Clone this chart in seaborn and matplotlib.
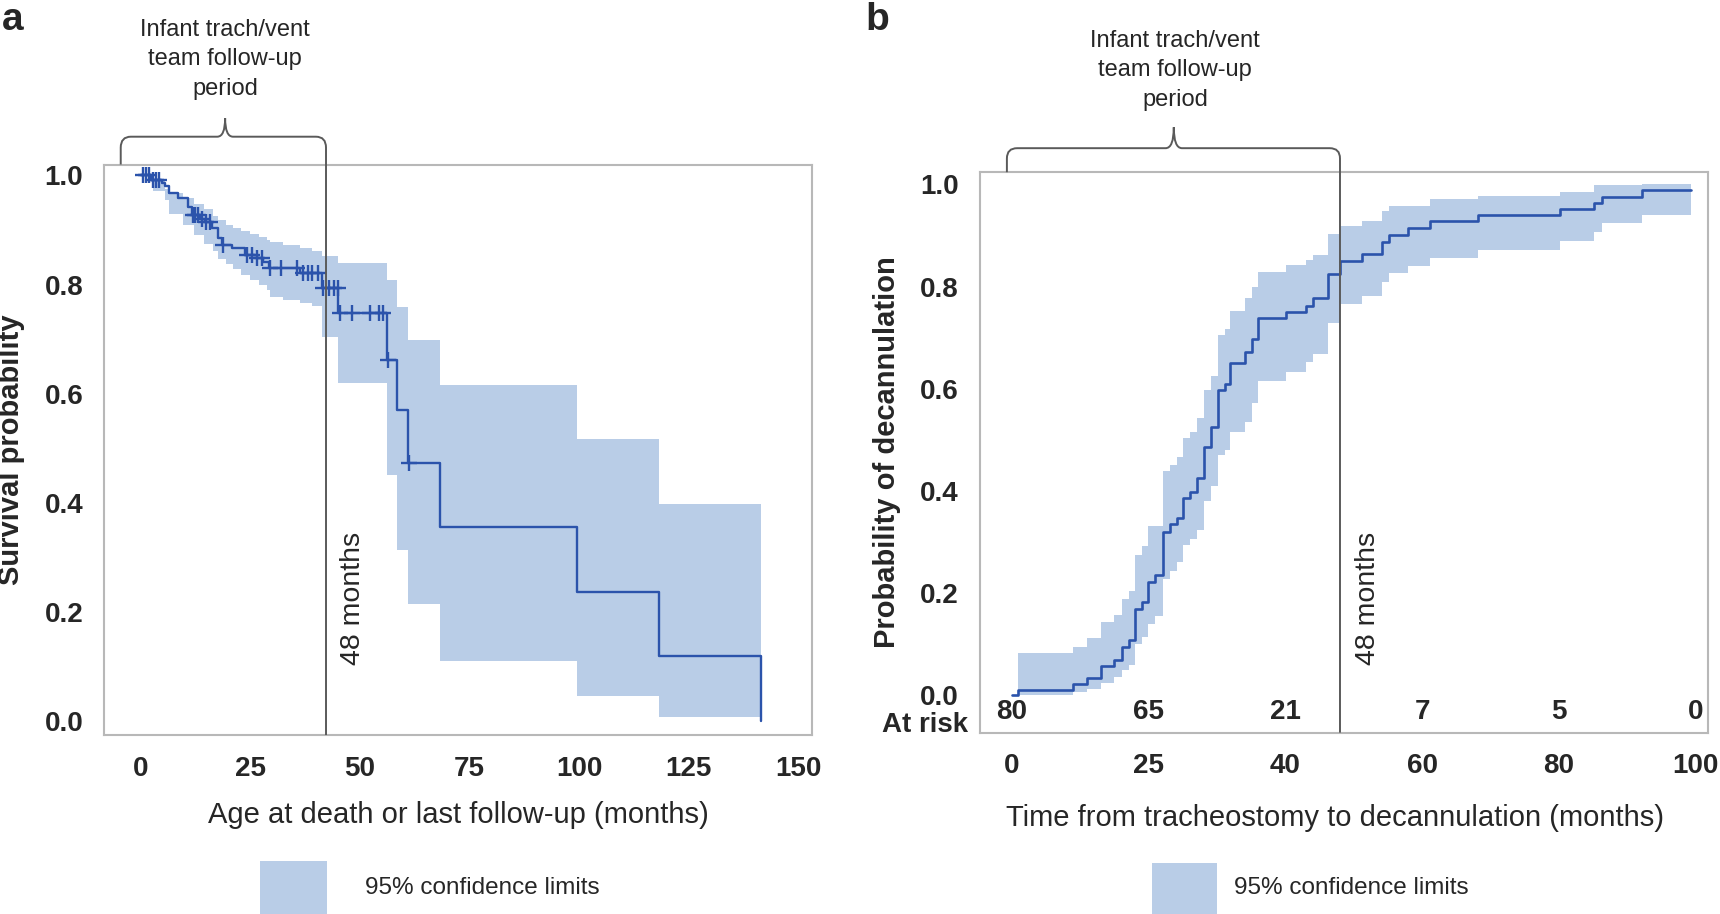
import numpy as np
import pandas as pd
import seaborn as sns
import matplotlib.pyplot as plt
from matplotlib.path import Path
from matplotlib.patches import PathPatch, Rectangle

# ---- panel a: survival (Kaplan-Meier) ----
surv_time = [0, 2.5, 4.85, 5.6, 6.4, 8.6, 10.9, 11.7, 13.6, 14.7, 16.2, 17.7, 18.5, 20.8,
             23.8, 26.5, 28.0, 29.2, 36.4, 41.3, 45.1, 56.3, 58.4, 61.1, 68.3, 99.6, 118.3, 141.4]
surv_prob = [1.0, 0.992, 0.986, 0.980, 0.967, 0.958, 0.943, 0.927, 0.921, 0.915, 0.903, 0.885, 0.873, 0.867,
             0.854, 0.848, 0.842, 0.830, 0.821, 0.793, 0.747, 0.662, 0.570, 0.472, 0.356, 0.237, 0.118, 0.0]
ci_a_time = [2.8, 5.5, 6.5, 9.8, 12.1, 14.5, 16.6, 17.7, 19.5, 21.2, 23.0, 25.0, 27.0, 28.8, 29.5,
             32.5, 36.3, 39.0, 41.3, 45.1, 56.3, 58.4, 61.1, 68.3, 99.6, 118.3, 141.4]
ci_a_hi = [0.990, 0.975, 0.967, 0.958, 0.948, 0.938, 0.925, 0.918, 0.910, 0.904, 0.898, 0.893, 0.887, 0.882, 0.878,
           0.873, 0.867, 0.862, 0.853, 0.839, 0.808, 0.759, 0.698, 0.616, 0.516, 0.397, 0.397]
ci_a_lo = [0.972, 0.955, 0.930, 0.910, 0.890, 0.875, 0.862, 0.846, 0.838, 0.828, 0.818, 0.808, 0.800, 0.790, 0.778,
           0.772, 0.766, 0.760, 0.704, 0.619, 0.451, 0.313, 0.215, 0.110, 0.045, 0.007, 0.007]
cens_time = [0.5, 1.3, 2.0, 2.8, 3.5, 4.3, 11.9, 12.5, 13.2, 14.0, 14.9, 15.9, 18.9, 24.2, 25.4, 26.5, 27.7,
             29.6, 32.1, 35.8, 37.0, 38.1, 39.2, 40.4, 41.7, 43.0, 44.1, 45.0, 45.6, 48.3, 52.3, 54.4, 55.2,
             56.5, 61.3]

# ---- panel b: decannulation ----
dec_time = [0, 0.9, 9.0, 11.0, 13.0, 14.9, 16.1, 17.2, 18.1, 19.1, 20.0, 21.0, 22.1, 23.1, 24.1, 25.1, 26.1,
            27.1, 28.1, 29.1, 30.2, 31.2, 31.9, 34.1, 35.1, 36.0, 40.1, 43.1, 44.1, 46.3, 48.0, 51.2, 54.1,
            55.2, 58.0, 61.2, 68.2, 80.1, 85.2, 86.3, 92.1, 99.3]
dec_prob = [0, 0.010, 0.023, 0.034, 0.057, 0.070, 0.095, 0.109, 0.170, 0.183, 0.222, 0.235, 0.320, 0.335,
            0.348, 0.386, 0.399, 0.425, 0.487, 0.525, 0.598, 0.610, 0.650, 0.673, 0.698, 0.739, 0.750, 0.763,
            0.778, 0.825, 0.850, 0.864, 0.888, 0.902, 0.915, 0.928, 0.940, 0.951, 0.963, 0.975, 0.989, 0.989]
dec_hi = [0, 0.082, 0.095, 0.112, 0.144, 0.158, 0.188, 0.205, 0.275, 0.292, 0.332, 0.332, 0.440, 0.451,
          0.466, 0.503, 0.516, 0.542, 0.598, 0.625, 0.705, 0.718, 0.753, 0.777, 0.800, 0.828, 0.843, 0.852,
          0.862, 0.903, 0.918, 0.929, 0.948, 0.958, 0.958, 0.972, 0.978, 0.986, 0.999, 0.999, 1.0, 1.0]
dec_lo = [0, 0, 0.007, 0.012, 0.024, 0.036, 0.050, 0.060, 0.100, 0.115, 0.140, 0.155, 0.228, 0.243,
          0.262, 0.294, 0.306, 0.323, 0.380, 0.410, 0.470, 0.480, 0.515, 0.535, 0.572, 0.615, 0.632, 0.652,
          0.668, 0.728, 0.767, 0.781, 0.810, 0.827, 0.840, 0.856, 0.872, 0.890, 0.907, 0.924, 0.940, 0.940]
b_ticks = [0, 20, 40, 60, 80, 100]
b_ticklabels = ['0', '25', '40', '60', '80', '100']
at_risk = [80, 65, 21, 7, 5, 0]

sns.set_theme(style='white')
plt.rcParams['font.family'] = ['Liberation Sans Narrow', 'Liberation Sans', 'DejaVu Sans']

LINE = '#2b53ab'
BAND = '#b9cde7'
GREY = '#5a5a5a'
FRAME = '#b8b8b8'

fig = plt.figure(figsize=(17.2, 9.14), dpi=100)
ax_a = fig.add_axes([0.0605, 0.1958, 0.4116, 0.6242])
ax_b = fig.add_axes([0.5695, 0.1984, 0.4235, 0.6132])


def style_axis(ax):
    for sp in ax.spines.values():
        sp.set_color(FRAME)
        sp.set_linewidth(1.5)
    ax.tick_params(axis='both', direction='out', length=7, width=1.2, color=FRAME,
                   labelsize=20, pad=8)
    for lab in ax.get_xticklabels() + ax.get_yticklabels():
        lab.set_fontweight('bold')


def brace(ax, xl, xp, xr, ytop, ypk, yfr, ybot, rx, ry, px):
    verts = [(xl, yfr), (xl, ytop - ry), (xl, ytop), (xl + rx, ytop),
             (xp - px, ytop), (xp, ytop), (xp, ypk), (xp, ytop), (xp + px, ytop),
             (xr - rx, ytop), (xr, ytop), (xr, ytop - ry), (xr, ybot)]
    codes = [Path.MOVETO, Path.LINETO, Path.CURVE3, Path.CURVE3,
             Path.LINETO, Path.CURVE3, Path.CURVE3, Path.CURVE3, Path.CURVE3,
             Path.LINETO, Path.CURVE3, Path.CURVE3, Path.LINETO]
    ax.add_patch(PathPatch(Path(verts, codes), fill=False, edgecolor=GREY, lw=1.4,
                           clip_on=False, zorder=6))


# ---------- panel a ----------
df_a = pd.DataFrame({'t': surv_time, 's': surv_prob})
ax_a.fill_between(ci_a_time, ci_a_lo, ci_a_hi, step='post', color=BAND, lw=0, zorder=1)
sns.lineplot(data=df_a, x='t', y='s', ax=ax_a, drawstyle='steps-post', color=LINE, lw=1.7,
             estimator=None, zorder=3)
cens_s = np.array(surv_prob)[np.searchsorted(surv_time, cens_time, side='right') - 1]
sns.scatterplot(x=cens_time, y=cens_s, ax=ax_a, marker='+', s=130, color=LINE, linewidth=1.7, zorder=4)
ax_a.set_xlim(-8.3, 153.1)
ax_a.set_ylim(-0.026, 1.02)
ax_a.set_xticks([0, 25, 50, 75, 100, 125, 150])
ax_a.set_yticks([0, 0.2, 0.4, 0.6, 0.8, 1.0])
ax_a.set_yticklabels(['0.0', '0.2', '0.4', '0.6', '0.8', '1.0'])
ax_a.set_xlabel('Age at death or last follow-up (months)', fontsize=21, labelpad=14)
ax_a.set_ylabel('Survival probability', fontsize=21, fontweight='bold', labelpad=14)
style_axis(ax_a)
brace(ax_a, -4.5, 19.3, 42.3, 1.071, 1.105, 1.02, -0.026, 2.3, 0.02, 1.8)
ax_a.text(48.5, 0.225, '48 months', rotation=90, ha='center', va='center', fontsize=20.5,
          family=['Liberation Sans', 'DejaVu Sans'])

# ---------- panel b ----------
df_b = pd.DataFrame({'t': dec_time, 'p': dec_prob})
ax_b.fill_between(dec_time, dec_lo, dec_hi, step='post', color=BAND, lw=0, zorder=1)
sns.lineplot(data=df_b, x='t', y='p', ax=ax_b, drawstyle='steps-post', color=LINE, lw=1.9,
             estimator=None, zorder=3)
ax_b.set_xlim(-4.7, 101.8)
ax_b.set_ylim(-0.073, 1.024)
ax_b.set_xticks(b_ticks)
ax_b.set_xticklabels(b_ticklabels)
ax_b.set_yticks([0, 0.2, 0.4, 0.6, 0.8, 1.0])
ax_b.set_yticklabels(['0.0', '0.2', '0.4', '0.6', '0.8', '1.0'])
ax_b.set_xlabel('Time from tracheostomy to decannulation (months)', fontsize=21, labelpad=14)
ax_b.xaxis.set_label_coords(0.488, -0.127)
ax_b.set_ylabel('Probability of decannulation', fontsize=21, fontweight='bold', labelpad=14)
style_axis(ax_b)
brace(ax_b, -0.7, 23.7, 48.0, 1.071, 1.112, 1.024, -0.073, 1.5, 0.02, 1.2)
ax_b.text(52.1, 0.19, '48 months', rotation=90, ha='center', va='center', fontsize=20.5,
          family=['Liberation Sans', 'DejaVu Sans'])
for xt, n in zip(b_ticks, at_risk):
    ax_b.text(xt, -0.032, str(n), ha='center', va='center', fontsize=20, fontweight='bold')
ax_b.text(-12.7, -0.058, 'At risk', ha='center', va='center', fontsize=20, fontweight='bold',
          clip_on=False)

# ---------- annotations and legends ----------
for cx, ys in [(225, [29.6, 59.2, 88.9]), (1175, [40.6, 70.2, 99.8])]:
    for txt, yy in zip(['Infant trach/vent', 'team follow-up', 'period'], ys):
        fig.text(cx / 1720, 1 - yy / 914, txt, ha='center', va='center', fontsize=17)

fig.text(13 / 1720, 1 - 20 / 914, 'a', ha='center', va='center', fontsize=28, fontweight='bold',
         family=['Liberation Sans', 'DejaVu Sans'])
fig.text(877 / 1720, 1 - 20 / 914, 'b', ha='center', va='center', fontsize=28, fontweight='bold',
         family=['Liberation Sans', 'DejaVu Sans'])

for x0, x1, ytop, tx in [(260, 327, 861, 365), (1152, 1217, 863, 1234)]:
    fig.add_artist(Rectangle((x0 / 1720, 0), (x1 - x0) / 1720, 1 - ytop / 914,
                             transform=fig.transFigure, color=BAND, lw=0))
    fig.text(tx / 1720, 1 - 888 / 914, '95% confidence limits', ha='left', va='center', fontsize=17.5)

fig.savefig('out.png', dpi=100)
